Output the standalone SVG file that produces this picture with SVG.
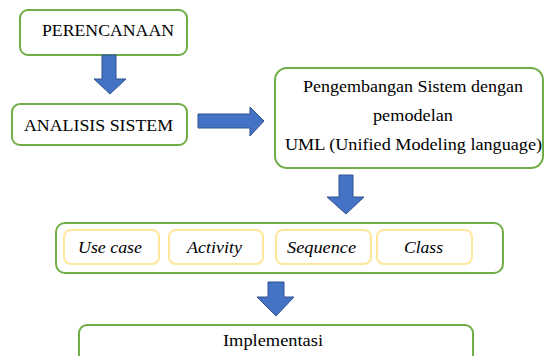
<svg xmlns="http://www.w3.org/2000/svg" width="544" height="356" viewBox="0 0 544 356">
<style>
.box{fill:#fff;stroke:#70AD47;stroke-width:2}
.sub{fill:#fff;stroke:#FFE699;stroke-width:2}
.arr{fill:#4472C4;stroke:#2F528F;stroke-width:1}
.t{font-size:17px;fill:#000}
.i{font-size:17px;font-style:italic;fill:#000}
</style>
<rect width="544" height="356" fill="#fff"/>
<g font-family="'Liberation Serif', 'DejaVu Serif', 'Times New Roman', serif">
<g id="perencanaan">
<rect class="box" x="20" y="10" width="167" height="45" rx="8"/>
<text class="t" x="42" y="36" textLength="132" lengthAdjust="spacingAndGlyphs">PERENCANAAN</text>
</g>
<g id="analisis">
<rect class="box" x="12" y="104" width="175" height="41" rx="8"/>
<text class="t" x="24" y="131" textLength="149" lengthAdjust="spacingAndGlyphs">ANALISIS SISTEM</text>
</g>
<g id="uml">
<rect class="box" x="275" y="68" width="268" height="100" rx="12"/>
<text class="t" x="303" y="92" textLength="220" lengthAdjust="spacingAndGlyphs">Pengembangan Sistem dengan</text>
<text class="t" x="373" y="121" textLength="80" lengthAdjust="spacingAndGlyphs">pemodelan</text>
<text class="t" x="285" y="150" textLength="257" lengthAdjust="spacingAndGlyphs">UML (Unified Modeling language)</text>
</g>
<g id="diagrams">
<rect class="box" x="56" y="223" width="447" height="50" rx="9"/>
<g id="usecase"><rect class="sub" x="64" y="230" width="95" height="34" rx="7"/><text class="i" x="78" y="253" textLength="64" lengthAdjust="spacingAndGlyphs">Use case</text></g>
<g id="activity"><rect class="sub" x="169" y="230" width="94" height="34" rx="7"/><text class="i" x="187" y="253" textLength="55" lengthAdjust="spacingAndGlyphs">Activity</text></g>
<g id="sequence"><rect class="sub" x="276" y="230" width="95" height="34" rx="7"/><text class="i" x="287" y="253" textLength="69" lengthAdjust="spacingAndGlyphs">Sequence</text></g>
<g id="class"><rect class="sub" x="377" y="230" width="95" height="34" rx="7"/><text class="i" x="404" y="253" textLength="39" lengthAdjust="spacingAndGlyphs">Class</text></g>
</g>
<g id="implementasi">
<rect class="box" x="79" y="325" width="394" height="40" rx="8"/>
<text class="t" x="223" y="346" textLength="100" lengthAdjust="spacingAndGlyphs">Implementasi</text>
</g>
</g>
<g id="connectors">
<polygon class="arr" points="102,55 116,55 116,79 126,79 110,94 94,79 102,79"/>
<polygon class="arr" points="198,114 250,114 250,107 264,121 250,136 250,128 198,128"/>
<polygon class="arr" points="339,175 353,175 353,197 364,197 346,214 327,197 339,197"/>
<polygon class="arr" points="268,282 284,282 284,297 294,297 276,316 257,297 268,297"/>
</g>
</svg>
